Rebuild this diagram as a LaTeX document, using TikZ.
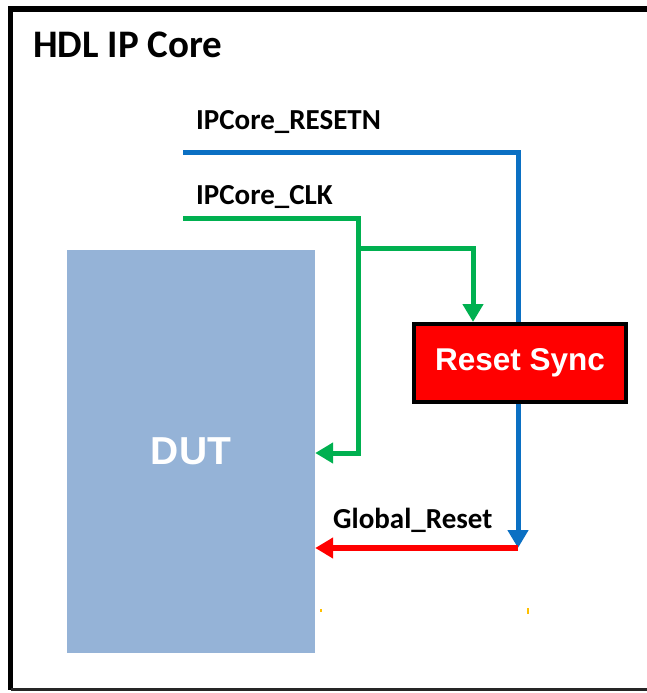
\documentclass[tikz,border=0pt]{standalone}
\usepackage{fontspec}
\setmainfont{Carlito}
\newfontfamily\arialfont{Liberation Sans}
\usetikzlibrary{arrows.meta}
\definecolor{dutblue}{HTML}{95B3D7}
\definecolor{rstblue}{HTML}{0B70C3}
\definecolor{clkgreen}{HTML}{00B050}
\definecolor{rstred}{HTML}{FF0000}
\definecolor{tickorange}{HTML}{FFC000}
\tikzset{
  wire/.style={line width=5pt},
  tip/.style={-{Triangle[width=20pt,length=18pt]}},
  lbl/.style={anchor=base west, inner sep=0pt, font=\fontsize{29}{32}\selectfont\bfseries},
  dutbox/.style={fill=dutblue, draw=none, minimum width=248pt, minimum height=403pt,
    text=white, font=\arialfont\fontsize{39}{42}\selectfont\bfseries},
  syncbox/.style={fill=rstred, draw=black, line width=4pt, minimum width=212pt, minimum height=78pt,
    text=white, font=\arialfont\fontsize{31.5}{34}\selectfont\bfseries},
  tick/.style={tickorange, line width=1.5pt}
}
\begin{document}
\begin{tikzpicture}[x=1pt,y=-1pt]
\useasboundingbox (0,0) rectangle (647,693);
\clip (0,0) rectangle (647,693);
% frame
\draw[line width=5.5pt] (10.5,689.5) -- (10.5,9) -- (647,9);
\draw[line width=3pt, black!85] (10.5,689.5) -- (647,689.5);
\node[lbl, font=\fontsize{39}{44}\selectfont\bfseries] (title) at (33,57) {HDL IP Core};
% blocks
\node[dutbox] (dut) at (191,451.5) {DUT};
\node[syncbox] (rs) at (520,363) {Reset Sync};
% labels
\node[lbl] (lrst) at (196,129) {IPCore\_RESETN};
\node[lbl] (lclk) at (196,204) {IPCore\_CLK};
\node[lbl] (lglob) at (333,528) {Global\_Reset};
% coordinates
\coordinate (rstart) at (183,152);
\coordinate (rcorner) at (518,152);
\coordinate (cstart) at (183,218);
\coordinate (ccorner) at (358,218);
\coordinate (branch) at (358,248);
\coordinate (bcorner) at (473,248);
\coordinate (cdown) at (358,453);
\coordinate (gr) at (518,548);
% reset wire
\draw[wire, rstblue] (rstart) -- (rcorner) -- (rcorner |- rs.north);
\draw[wire, rstblue, tip] (rcorner |- rs.south) -- (gr);
% clock wires
\draw[wire, clkgreen, tip] (cstart) -- (ccorner) -- (cdown) -- (cdown -| dut.east);
\draw[wire, clkgreen, tip] (branch) -- (bcorner) -- (bcorner |- rs.north);
% global reset
\draw[wire, line width=6pt, rstred, tip] (gr) -- (gr -| dut.east);
% small marks
\coordinate (t1) at (321,609);
\coordinate (t2) at (528,608);
\draw[tick] (t1) -- ++(0,3);
\draw[tick] (t2) -- ++(0,6);
\end{tikzpicture}
\end{document}
